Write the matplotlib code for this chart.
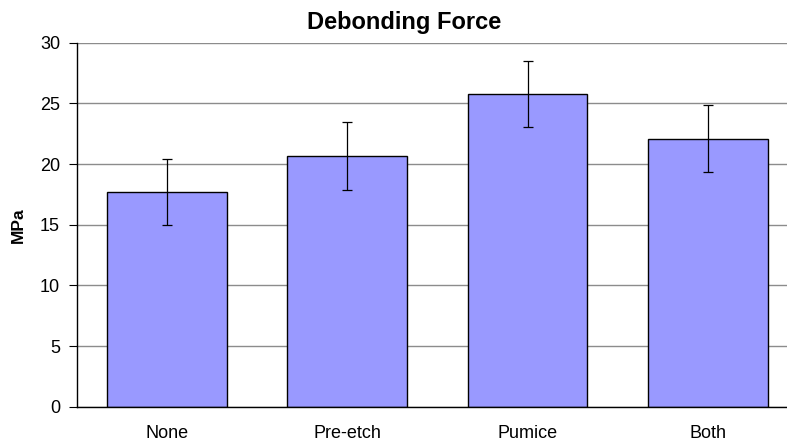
import matplotlib
matplotlib.use("Agg")
import matplotlib.pyplot as plt
import numpy as np

# data
categories = ["None", "Pre-etch", "Pumice", "Both"]
values = [17.7, 20.65, 25.8, 22.1]
errors = [2.75, 2.8, 2.72, 2.74]
yticks = [0, 5, 10, 15, 20, 25, 30]

plt.rcParams["font.family"] = ["Liberation Sans", "DejaVu Sans"]

fig = plt.figure(figsize=(7.87, 4.42), dpi=100)
# plot area runs slightly past the right edge of the figure, as in the reference
ax = fig.add_axes([76.7 / 787, 1 - 406.7 / 442, (798 - 76.7) / 787, 364 / 442])

x = np.arange(len(categories))
ax.bar(x, values, width=0.665, color="#9999FF", edgecolor="black",
       linewidth=1.0, zorder=2)
ax.errorbar(x, values, yerr=errors, fmt="none", ecolor="black",
            elinewidth=0.9, capsize=3.3, capthick=0.9, zorder=3)

ax.set_xlim(-0.5, len(categories) - 0.5)
ax.set_ylim(0, 30)
ax.set_yticks(yticks)
ax.set_xticks(x)
ax.set_xticklabels(categories)
ax.tick_params(axis="y", direction="out", length=6, width=0.8, pad=6, labelsize=13)
ax.tick_params(axis="x", length=0, pad=13, labelsize=13)

ax.yaxis.grid(True, color="#8c8c8c", linewidth=1.0, zorder=0)
ax.set_axisbelow(True)
for side in ["top", "right"]:
    ax.spines[side].set_visible(False)
ax.spines["left"].set_linewidth(1.0)
ax.spines["bottom"].set_linewidth(1.0)

ax.set_ylabel("MPa", fontsize=12.5, fontweight="bold", labelpad=10)
fig.text(404 / 787, 1 - 22 / 442, "Debonding Force", ha="center", va="center",
         fontsize=17, fontweight="bold")

fig.savefig("out.png", dpi=100)
